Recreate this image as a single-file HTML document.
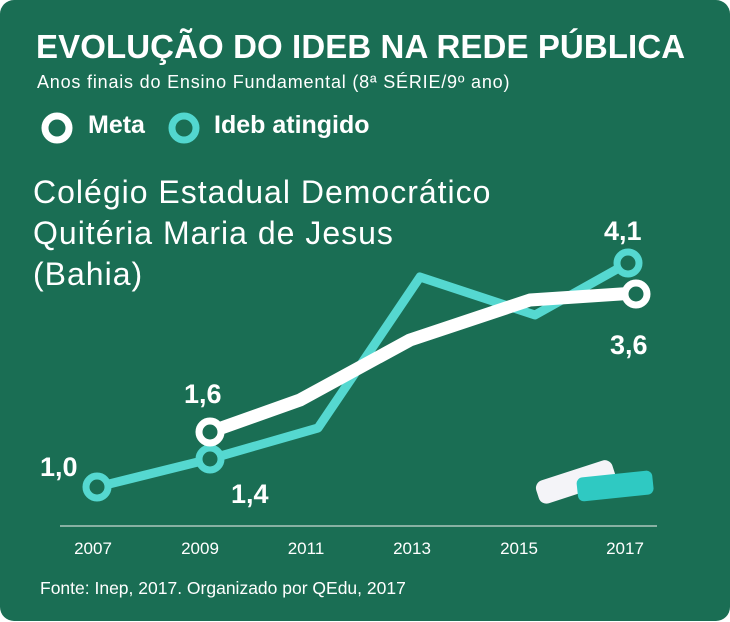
<!DOCTYPE html>
<html><head><meta charset="utf-8"><style>
body{margin:0;background:#fff;width:730px;height:622px;overflow:hidden}
.c{position:absolute;left:0;top:0;width:730px;height:621px;background:#1a6e54;border-radius:14px;font-family:"Liberation Sans",sans-serif;color:#fff}
.t{position:absolute;left:36px;top:28px;font-size:33px;font-weight:bold;letter-spacing:0.1px;white-space:nowrap}
.s{position:absolute;left:37px;top:72px;font-size:18px;letter-spacing:0.8px;white-space:nowrap}
.l{position:absolute;top:111px;font-size:25px;font-weight:bold;white-space:nowrap}
.n{position:absolute;left:33px;top:172px;font-size:32px;line-height:41px;letter-spacing:1px;white-space:nowrap}
.f{position:absolute;left:40px;top:578px;font-size:17.5px;white-space:nowrap}
</style></head><body><div class="c">
<div class="t">EVOLUÇÃO DO IDEB NA REDE PÚBLICA</div>
<div class="s">Anos finais do Ensino Fundamental (8ª SÉRIE/9º ano)</div>
<svg width="730" height="622" style="position:absolute;left:0;top:0">
<circle cx="57" cy="128" r="12" fill="none" stroke="#fff" stroke-width="7"/>
<circle cx="184" cy="128" r="12" fill="none" stroke="#52d7cf" stroke-width="7"/>
<line x1="60" y1="526" x2="657" y2="526" stroke="#c9d9d2" stroke-width="1.2"/>
<polyline points="97,487 210,459 318,428 420,277 535,315 628,263" fill="none" stroke="#55d8d0" stroke-width="9" stroke-linejoin="round"/>
<polyline points="210,432 300,400 410,340 530,300 636,293" fill="none" stroke="#fff" stroke-width="13" stroke-linejoin="round"/>
<circle cx="97" cy="487" r="11" fill="#1a6e54" stroke="#55d8d0" stroke-width="7"/>
<circle cx="210" cy="459" r="11" fill="#1a6e54" stroke="#55d8d0" stroke-width="7"/>
<circle cx="628" cy="263" r="11" fill="#1a6e54" stroke="#55d8d0" stroke-width="7"/>
<circle cx="210" cy="432" r="11" fill="#1a6e54" stroke="#fff" stroke-width="7"/>
<circle cx="636" cy="294" r="11" fill="#1a6e54" stroke="#fff" stroke-width="7"/>
<g transform="rotate(-18 575 480)"><rect x="535" y="470" width="80" height="24" rx="8" fill="#f4f4f8"/></g>
<g transform="rotate(-6 615 485)"><rect x="577" y="474" width="76" height="24" rx="6" fill="#2fc9c2"/></g>
<g font-family="Liberation Sans,sans-serif" fill="#fff" font-weight="bold" font-size="27">
<text x="40" y="476">1,0</text><text x="184" y="403">1,6</text><text x="231" y="503">1,4</text>
<text x="604" y="240">4,1</text><text x="610" y="354">3,6</text></g>
<g font-family="Liberation Sans,sans-serif" fill="#fff" font-size="17" text-anchor="middle">
<text x="93" y="554">2007</text><text x="200" y="554">2009</text><text x="306" y="554">2011</text><text x="412" y="554">2013</text><text x="519" y="554">2015</text><text x="625" y="554">2017</text></g>
</svg>
<div class="l" style="left:88px">Meta</div>
<div class="l" style="left:214px">Ideb atingido</div>
<div class="n">Colégio Estadual Democrático<br>Quitéria Maria de Jesus<br>(Bahia)</div>
<div class="f">Fonte: Inep, 2017. Organizado por QEdu, 2017</div>
</div></body></html>
